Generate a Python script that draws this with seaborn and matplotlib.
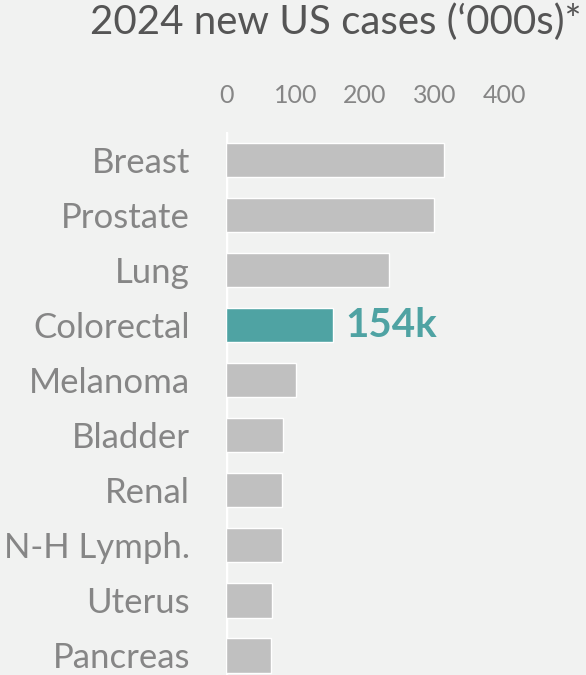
import pandas as pd
import seaborn as sns
import matplotlib.pyplot as plt

# Values ('000s of new cases, 2024)
cancers = ['Breast', 'Prostate', 'Lung', 'Colorectal', 'Melanoma',
           'Bladder', 'Renal', 'N-H Lymph.', 'Uterus', 'Pancreas']
cases = [313, 299, 234, 154, 100, 82, 81, 80, 66, 65]
highlight = 'Colorectal'
ticks = [0, 100, 200, 300, 400]

df = pd.DataFrame({'Cancer': cancers, 'Cases': cases})

bg = '#f1f2f1'
grey_bar = '#c0c0c0'
teal = '#4fa3a3'
label_col = '#868686'

sns.set_style('white')
plt.rcParams['font.family'] = ['Lato', 'DejaVu Sans']

fig = plt.figure(figsize=(5.86, 6.75), dpi=100, facecolor=bg)
ax = fig.add_axes([226 / 586, 0, 310 / 586, 543 / 675])
ax.set_facecolor(bg)

palette = {c: (teal if c == highlight else grey_bar) for c in cancers}
sns.barplot(data=df, x='Cases', y='Cancer', hue='Cancer', palette=palette,
            order=cancers, width=0.63, legend=False, saturation=1, ax=ax)

ax.set_xlim(0, 446)
ax.set_ylim(9.36, -0.51)
ax.axvline(0, color='white', lw=2.5, zorder=0)

for s in ax.spines.values():
    s.set_visible(False)

ax.xaxis.tick_top()
ax.set_xticks(ticks)
ax.set_xticklabels([str(t) for t in ticks])
ax.tick_params(axis='x', length=0, pad=18, labelsize=18, labelcolor=label_col)
ax.tick_params(axis='y', length=0, pad=26, labelsize=25, labelcolor=label_col)
ax.set_xlabel('')
ax.set_ylabel('')

# Label on the highlighted bar
i = cancers.index(highlight)
ax.text(cases[i] + 17, i, f'{cases[i]}k', color=teal, fontsize=29,
        fontweight='bold', va='center', ha='left')

fig.text(582 / 586, 1 - 22 / 675, '2024 new US cases (\u2018000s)*',
         ha='right', va='center', fontsize=29, color='#555555')

fig.savefig('out.png', dpi=100, facecolor=bg)
